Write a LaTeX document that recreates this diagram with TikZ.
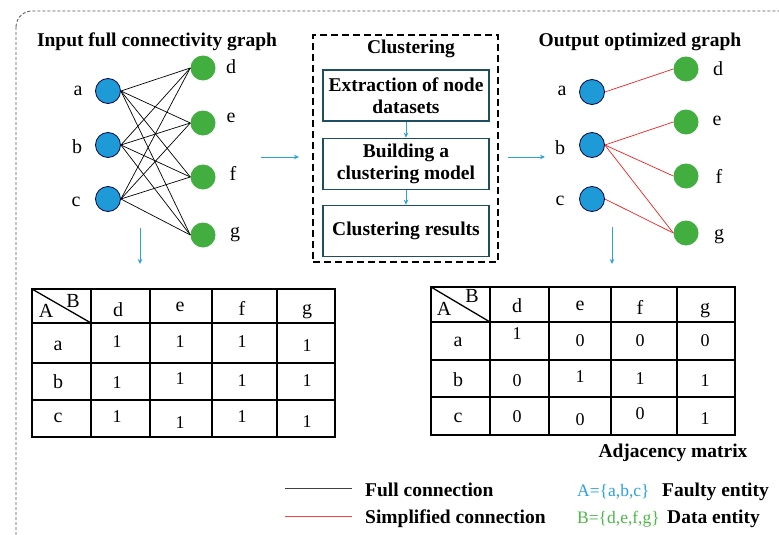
\documentclass[tikz,border=0pt]{standalone}
\usepackage{fontspec}
\setmainfont{Liberation Serif}
\usetikzlibrary{arrows.meta}
\definecolor{nodeblue}{HTML}{1E9AD6}
\definecolor{nodegreen}{HTML}{42AE3F}
\definecolor{arrowblue}{HTML}{2AA2DE}
\definecolor{boxteal}{HTML}{1F4E63}
\definecolor{txtblue}{HTML}{2AA2DE}
\definecolor{txtgreen}{HTML}{4CB848}
\definecolor{simpred}{HTML}{F02020}
\begin{document}
\begin{tikzpicture}[x=1pt,y=-1pt,
 fent/.style={circle,fill=nodeblue,draw=black!70!blue,line width=0.8pt,minimum size=25pt,inner sep=0pt},
 dent/.style={circle,fill=nodegreen,minimum size=25pt,inner sep=0pt},
 lbl/.style={font=\fontsize{20}{23}\selectfont,inner sep=0pt},
 hd/.style={font=\fontsize{19.5}{22}\selectfont\bfseries,inner sep=0pt},
 cell/.style={font=\fontsize{18}{20}\selectfont,inner sep=0pt},
 legt/.style={font=\fontsize{17.5}{20}\selectfont,inner sep=0pt},
 full/.style={black,line width=0.7pt},
 simp/.style={simpred,line width=0.7pt},
 flow/.style={arrowblue,line width=0.9pt,-{Stealth[length=5pt,width=4.5pt]}},
 procbox/.style={draw=boxteal,line width=1.6pt,minimum width=166pt,minimum height=51pt,align=center,font=\fontsize{19.5}{22}\selectfont\bfseries,inner sep=0pt},
 tabline/.style={black,line width=1.3pt}
]
\useasboundingbox (0,0) rectangle (779,535);
% outer frame
\draw[gray!70!black,line width=0.9pt,dash pattern=on 3pt off 2pt,rounded corners=16pt] (16,11) rectangle (800,560);

% ---------- left graph ----------
\node[hd,anchor=base] (t1) at (157,47) {Input full connectivity graph};
\node[fent] (a1) at (108,91) {};
\node[fent] (b1) at (108,145) {};
\node[fent] (c1) at (108,199) {};
\node[dent] (d1) at (203,68) {};
\node[dent] (e1) at (203,123) {};
\node[dent] (f1) at (203,177) {};
\node[dent] (g1) at (203,235) {};
\node[lbl] (la1) at (78,91) {a};
\node[lbl] (lb1) at (77,147) {b};
\node[lbl] (lc1) at (76,202) {c};
\node[lbl] (ld1) at (231,67) {d};
\node[lbl] (le1) at (231,118) {e};
\node[lbl] (lf1) at (233,173) {f};
\node[lbl] (lg1) at (235,235) {g};
\foreach \s in {a1,b1,c1}{
  \foreach \t in {d1,e1,f1,g1}{
    \draw[full] (\s.east) -- (\t.west);
  }
}

% ---------- clustering ----------
\node[draw=black,line width=1.6pt,dash pattern=on 7pt off 4pt,minimum width=185pt,minimum height=227pt,inner sep=0pt] (clu) at (405.5,148.5) {};
\node[hd,anchor=base] (t2) at (411,54) {Clustering};
\node[procbox] (p1) at (406,95.5) {Extraction of node\\datasets};
\node[procbox] (p2) at (406,164) {Building a\\clustering model};
\node[procbox] (p3) at (406,231) {Clustering results};
\draw[flow] (p1) -- (p2);
\draw[flow] (p2) -- (p3);

\coordinate (arL1) at (261,157);
\coordinate (arL2) at (299,157);
\coordinate (arR1) at (508,157);
\coordinate (arR2) at (545,157);
\draw[flow] (arL1) -- (arL2);
\draw[flow] (arR1) -- (arR2);
\coordinate (dnL1) at (140,228);
\coordinate (dnL2) at (140,264);
\coordinate (dnR1) at (612,227);
\coordinate (dnR2) at (612,264);
\draw[flow] (dnL1) -- (dnL2);
\draw[flow] (dnR1) -- (dnR2);

% ---------- right graph ----------
\node[hd,anchor=base] (t3) at (640,47) {Output optimized graph};
\node[fent] (a2) at (592,92) {};
\node[fent] (b2) at (592,145) {};
\node[fent] (c2) at (592,199) {};
\node[dent] (d2) at (686,69) {};
\node[dent] (e2) at (686,122) {};
\node[dent] (f2) at (686,176) {};
\node[dent] (g2) at (686,233) {};
\node[lbl] (la2) at (562,91) {a};
\node[lbl] (lb2) at (560,148) {b};
\node[lbl] (lc2) at (560,201) {c};
\node[lbl] (ld2) at (718,69) {d};
\node[lbl] (le2) at (717,121) {e};
\node[lbl] (lf2) at (719,176) {f};
\node[lbl] (lg2) at (719,237) {g};
\draw[simp] (a2.east) -- (d2.west);
\draw[simp] (b2.east) -- (e2.west);
\draw[simp] (b2.east) -- (f2.west);
\draw[simp] (b2.east) -- (g2.west);
\draw[simp] (c2.east) -- (g2.west);

% ---------- left table ----------
\draw[tabline] (32,289) rectangle (335,437);
\foreach \xx in {91,150,212,277} \draw[tabline] (\xx,289) -- (\xx,437);
\foreach \yy in {323,363,400} \draw[tabline] (32,\yy) -- (335,\yy);
\draw[tabline] (32,289) -- (91,323);
\node[lbl] (lA) at (46,311) {A};
\node[lbl] (lB) at (73,301) {B};
\node[lbl] (lhd) at (118,310) {d};
\node[lbl] (lhe) at (180,307) {e};
\node[lbl] (lhf) at (242,308) {f};
\node[lbl] (lhg) at (307,312) {g};
\node[lbl] (lra) at (58,346) {a};
\node[lbl] (lrb) at (58,382) {b};
\node[lbl] (lrc) at (58,418) {c};
\node[cell] (l11) at (117,342) {1};
\node[cell] (l12) at (180,342) {1};
\node[cell] (l13) at (242,342) {1};
\node[cell] (l14) at (307,346) {1};
\node[cell] (l21) at (117,383) {1};
\node[cell] (l22) at (180,379) {1};
\node[cell] (l23) at (242,381) {1};
\node[cell] (l24) at (307,381) {1};
\node[cell] (l31) at (117,417) {1};
\node[cell] (l32) at (180,423) {1};
\node[cell] (l33) at (242,417) {1};
\node[cell] (l34) at (307,422) {1};

% ---------- right table ----------
\draw[tabline] (431,287) rectangle (735,435);
\foreach \xx in {490,549,611,677} \draw[tabline] (\xx,287) -- (\xx,435);
\foreach \yy in {322,360,397} \draw[tabline] (431,\yy) -- (735,\yy);
\draw[tabline] (431,287) -- (490,322);
\node[lbl] (rA) at (444,309) {A};
\node[lbl] (rB) at (472,296) {B};
\node[lbl] (rhd) at (517,306) {d};
\node[lbl] (rhe) at (580,306) {e};
\node[lbl] (rhf) at (640,307) {f};
\node[lbl] (rhg) at (705,311) {g};
\node[lbl] (rra) at (458,342) {a};
\node[lbl] (rrb) at (458,380) {b};
\node[lbl] (rrc) at (458,418) {c};
\node[cell] (r11) at (517,334) {1};
\node[cell] (r12) at (580,341) {0};
\node[cell] (r13) at (640,341) {0};
\node[cell] (r14) at (705,341) {0};
\node[cell] (r21) at (517,381) {0};
\node[cell] (r22) at (580,377) {1};
\node[cell] (r23) at (640,379) {1};
\node[cell] (r24) at (705,381) {1};
\node[cell] (r31) at (517,417) {0};
\node[cell] (r32) at (580,420) {0};
\node[cell] (r33) at (640,414) {0};
\node[cell] (r34) at (705,419) {1};
\node[hd,anchor=base] (adj) at (673,457) {Adjacency matrix};

% ---------- legend ----------
\coordinate (lg1a) at (285,488);
\coordinate (lg1b) at (352,488);
\coordinate (lg2a) at (285,516);
\coordinate (lg2b) at (352,516);
\draw[black!75,line width=1pt] (lg1a) -- (lg1b);
\draw[red!75,line width=1pt] (lg2a) -- (lg2b);
\node[hd,anchor=base west] (lgt1) at (365,496) {Full connection};
\node[hd,anchor=base west] (lgt2) at (365,523) {Simplified connection};
\node[legt,anchor=base west,text=txtblue] (lgA) at (577,496) {A=\{a,b,c\}};
\node[legt,anchor=base west,text=txtgreen] (lgB) at (577,523) {B=\{d,e,f,g\}};
\node[hd,anchor=base west] (lgt3) at (662,496) {Faulty entity};
\node[hd,anchor=base west] (lgt4) at (667,523) {Data entity};
\end{tikzpicture}
\end{document}
